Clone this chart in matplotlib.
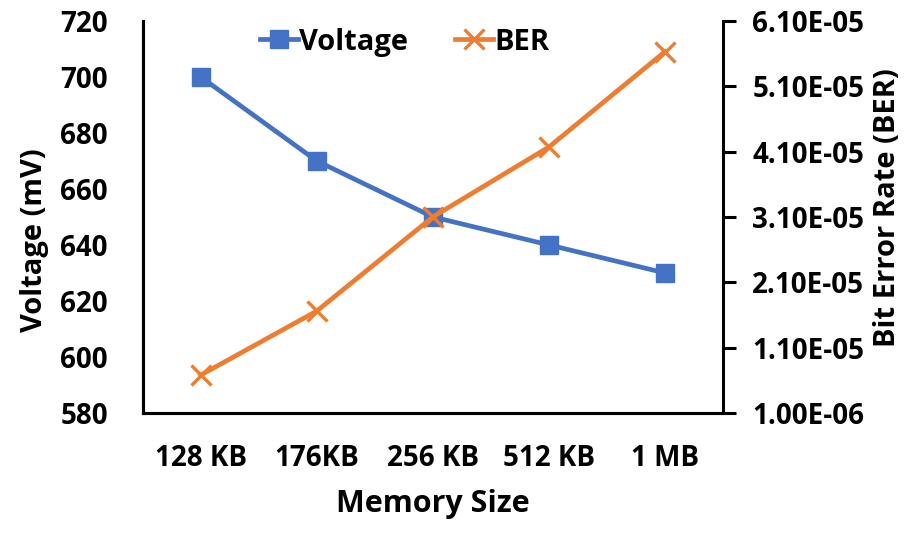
import numpy as np
import matplotlib
matplotlib.use("Agg")
import matplotlib.pyplot as plt
from matplotlib.ticker import FuncFormatter


# ===== DATA =====
sizes = ["128 KB", "176KB", "256 KB", "512 KB", "1 MB"]
voltage = [700, 670, 650, 640, 630]
ber = [6.8e-6, 1.66e-5, 3.1e-5, 4.17e-5, 5.63e-5]

volt_ticks = [580, 600, 620, 640, 660, 680, 700, 720]
ber_ticks = [1.0e-6, 1.1e-5, 2.1e-5, 3.1e-5, 4.1e-5, 5.1e-5, 6.1e-5]

BLUE = "#4472C4"
ORANGE = "#ED7D31"

plt.rcParams["font.family"] = ["Open Sans", "DejaVu Sans"]
plt.rcParams["font.weight"] = "bold"

# ===== PLOT =====
fig = plt.figure(figsize=(9.2, 5.35), dpi=100)
ax = fig.add_axes([0.155, 0.228, 0.631, 0.733])
ax2 = ax.twinx()

x = np.arange(len(sizes))
l1, = ax.plot(x, voltage, color=BLUE, lw=3.4, marker="s", markersize=12.5,
              label="Voltage")
l2, = ax2.plot(x, ber, color=ORANGE, lw=3.4, marker="x", markersize=15,
               markeredgewidth=2.4, label="BER")

ax.set_xlim(-0.5, len(sizes) - 0.5)
ax.set_ylim(580, 720)
ax.set_yticks(volt_ticks)
ax2.set_ylim(1.0e-6, 6.1e-5)
ax2.set_yticks(ber_ticks)
ax2.yaxis.set_major_formatter(FuncFormatter(lambda v, p: "{:.2E}".format(v)))

ax.set_xticks(x)
ax.set_xticklabels(sizes)

for a in (ax, ax2):
    a.spines["top"].set_visible(False)
    for s in a.spines.values():
        s.set_linewidth(2.2)
        s.set_color("black")
ax.spines["right"].set_visible(False)

ax.tick_params(axis="y", length=0, pad=25, labelsize=20)
ax.tick_params(axis="x", length=0, pad=22, labelsize=20)
ax2.tick_params(axis="y", length=9, width=2.2, direction="out", pad=12,
                labelsize=20)

ax.set_xlabel("Memory Size", fontsize=22, fontweight="bold", labelpad=12)
ax.set_ylabel("Voltage (mV)", fontsize=21, fontweight="bold", labelpad=8)
ax2.set_ylabel("Bit Error Rate (BER)", fontsize=21, fontweight="bold",
               labelpad=6)
ax.yaxis.label.set_y(0.44)
ax2.yaxis.label.set_y(0.525)

ax.legend(handles=[l1, l2], loc="center", bbox_to_anchor=(0.451, 0.946),
          ncol=2, frameon=False, fontsize=21, handlelength=1.3,
          handletextpad=0.05, columnspacing=1.6)

fig.savefig("out.png", dpi=100)
